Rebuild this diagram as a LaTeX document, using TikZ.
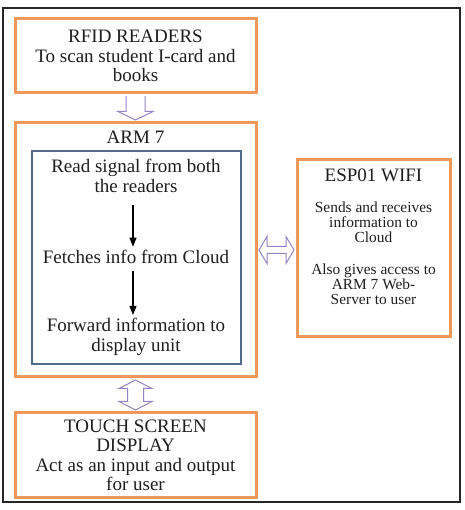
\documentclass[tikz,border=0pt]{standalone}
\usepackage{fontspec}
\setmainfont{Liberation Serif}
\usetikzlibrary{arrows.meta, positioning, calc}
\definecolor{boxorange}{RGB}{238,152,92}
\definecolor{slateblue}{RGB}{84,106,138}
\definecolor{arrowlilac}{RGB}{150,132,196}
\definecolor{inkgray}{RGB}{30,30,30}

\begin{document}
\begin{tikzpicture}[x=1pt, y=1pt,
  blockbox/.style={draw=boxorange, line width=3pt, minimum width=241pt, inner sep=0pt},
  txt/.style={text=inkgray, align=center, font=\fontsize{19}{19.5}\selectfont},
  smalltxt/.style={text=inkgray, align=center, font=\fontsize{15.4}{15}\selectfont},
  hollow/.style={draw=arrowlilac, fill=white, line width=1pt, line join=miter},
  flow/.style={-{Triangle[length=9pt,width=7pt]}, line width=1.1pt, black}]
  \useasboundingbox (0,0) rectangle (464,510);
  \draw[line width=1.2pt, black!85] (3,8) rectangle (460,502);

  \node[blockbox, txt, minimum height=74pt] (rfid) at (135.5,454) {RFID READERS\\To scan student I-card and\\books};
  \node[blockbox, minimum height=254pt] (arm) at (135.5,260) {};
  \node[txt] (armtitle) at (135.5,373) {ARM 7};
  \node[draw=slateblue, line width=1.2pt, minimum width=209pt, minimum height=213pt] (cpu) at (136.5,252.5) {};
  \node[txt] (read) at (136,334) {Read signal from both\\the readers};
  \node[txt] (fetch) at (136,253) {Fetches info from Cloud};
  \node[txt] (fwd) at (136,173) {Forward information to\\display unit};
  \draw[flow, shorten <=9pt] ([xshift=-3pt]read.south) -- ([xshift=-3pt]fetch.north);
  \draw[flow, shorten <=4pt] ([xshift=-3pt]fetch.south) -- ([xshift=-3pt]fwd.north);

  \node[blockbox, minimum width=153pt, minimum height=177pt] (esp) at (373.5,261.5) {};
  \node[txt] (esptitle) at (373.5,335) {ESP01 WIFI};
  \node[smalltxt] (espbody) at (373.5,256.5) {Sends and receives\\information to\\Cloud\\[17pt]Also gives access to\\ARM 7 Web-\\Server to user};

  \node[blockbox, txt, minimum height=85pt] (touch) at (135.5,54.5) {TOUCH SCREEN\\DISPLAY\\Act as an input and output\\for user};

  \draw[hollow] ($(rfid.south)+(-9.5,-1.5)$) -- ($(arm.north)+(-9.5,10)$) -- ($(arm.north)+(-17.5,10)$) -- ($(arm.north)+(0,1.5)$)
    -- ($(arm.north)+(17.5,10)$) -- ($(arm.north)+(9.5,10)$) -- ($(rfid.south)+(9.5,-1.5)$);

  \coordinate (linkl) at ($(arm.east)+(1.5,0)$);
  \coordinate (linkr) at ($(arm.east -| esp.west)+(-1.5,0)$);
  \draw[hollow] (linkl) -- ($(linkl)+(8,13.5)$) -- ($(linkl)+(8,3.5)$) -- ($(linkr)+(-8,3.5)$) -- ($(linkr)+(-8,13.5)$) -- (linkr)
    -- ($(linkr)+(-8,-13.5)$) -- ($(linkr)+(-8,-3.5)$) -- ($(linkl)+(8,-3.5)$) -- ($(linkl)+(8,-13.5)$) -- cycle;

  \draw[hollow] ($(arm.south)+(0,-1.5)$) -- ($(arm.south)+(16.5,-10)$) -- ($(arm.south)+(8,-10)$) -- ($(touch.north)+(8,10)$)
    -- ($(touch.north)+(16.5,10)$) -- ($(touch.north)+(0,1.5)$) -- ($(touch.north)+(-16.5,10)$) -- ($(touch.north)+(-8,10)$)
    -- ($(arm.south)+(-8,-10)$) -- ($(arm.south)+(-16.5,-10)$) -- cycle;
\end{tikzpicture}
\end{document}
